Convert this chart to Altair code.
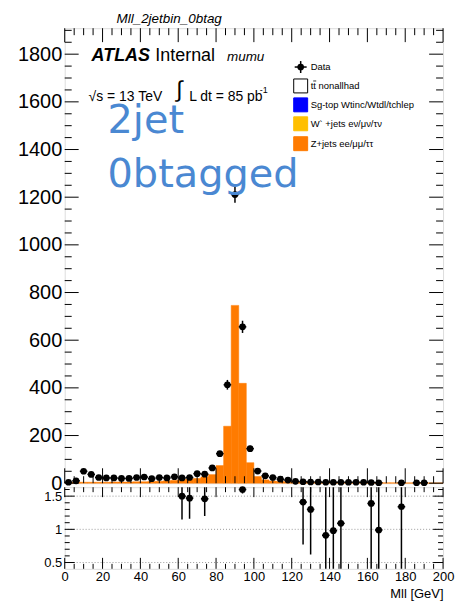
import altair as alt
import pandas as pd
import numpy as np

# ---------------- data ----------------
bin_centers = [2, 6, 10, 14, 18, 22, 26, 30, 34, 38, 42, 46, 50, 54, 58, 62, 66, 70, 74, 78,
               82, 86, 90, 94, 98, 102, 106, 110, 114, 118, 122, 126, 130, 134, 138, 142, 146, 150, 154, 158,
               162, 166, 170, 174, 178, 182, 186, 190, 194, 198]
bin_half_width = 2

data_counts = [4, 10, 50, 37, 24, 22, 22, 20, 20, 24, 26, 19, 24, 22, 27, 22, 24, 40, 38, 64,
               124, 413, 1211, 656, 145, 51, 31, 24, 17, 13, 8, 6, 5, 5, 4, 4, 4, 4, 4, 4,
               3, 2, None, None, 2, None, 2, 2, None, None]

zjets = [3, 4, 4, 4, 4, 4, 5, 5, 5, 6, 6, 7, 8, 10, 12, 15, 16.5, 20, 26.5, 36,
         74, 239, 746, 419, 86, 28, 14, 9, 7, 6, 5, 4.5, 4, 3.5, 3.2, 3, 2.8, 2.6, 2.4, 2.2,
         2, 1.9, 1.8, 1.7, 1.6, 1.5, 1.4, 1.3, 1.2, 1.1]

ratio_x = [62, 66, 74, 94, 126, 130, 138, 142, 146, 162, 166, 178]
ratio_val = [1.50, 1.47, 1.46, 1.60, 1.41, 1.30, 0.91, 0.98, 1.09, 1.39, 0.99, 1.34]
ratio_err = [0.35, 0.31, 0.26, 0.06, 0.64, 0.68, 0.75, 0.75, 0.75, 1.00, 0.75, 1.00]

y_major = [0, 200, 400, 600, 800, 1000, 1200, 1400, 1600, 1800]
y_minor = [v for v in range(50, 1950, 50) if v % 200]
x_major = [0, 20, 40, 60, 80, 100, 120, 140, 160, 180, 200]
x_minor = [v for v in range(5, 200, 5) if v % 20]
r_major = [0.5, 1.0, 1.5]
r_minor = [round(0.1 * i, 1) for i in range(5, 17) if i not in (5, 10, 15)]

legend_labels = ["Data", "tt nonallhad", "Sg-top Wtinc/Wtdl/tchlep",
                 "W` +jets e\u03bd/\u03bc\u03bd/\u03c4\u03bd", "Z+jets ee/\u03bc\u03bc/\u03c4\u03c4"]
legend_colors = [None, "white", "#0000ff", "#ffbf00", "#ff7b00"]

ORANGE = "#ff7b00"
BLUE_TXT = "#4a88d2"
FONT = "Liberation Sans"

W = 380
H_TOP = 457
H_RAT = 82
Y_TOP_MAX = 1909
R_MIN, R_MAX = 0.405, 1.635
AX_EXT = 48

# ---------------- frames ----------------
df_mc = pd.DataFrame({"x": [c - bin_half_width for c in bin_centers],
                      "x2": [c + bin_half_width for c in bin_centers],
                      "y": zjets})
df_mc["y0"] = 0
pts = [(c, n) for c, n in zip(bin_centers, data_counts) if n is not None]
df_pts = pd.DataFrame({"x": [p[0] for p in pts], "y": [p[1] for p in pts]})
df_pts["lo"] = df_pts["y"] - np.sqrt(df_pts["y"])
df_pts["hi"] = df_pts["y"] + np.sqrt(df_pts["y"])
df_pts["xl"] = df_pts["x"] - bin_half_width
df_pts["xr"] = df_pts["x"] + bin_half_width

df_rat = pd.DataFrame({"x": ratio_x, "y": ratio_val, "e": ratio_err})
df_rat["lo"] = df_rat["y"] - df_rat["e"]
df_rat["hi"] = df_rat["y"] + df_rat["e"]
df_rat["xl"] = df_rat["x"] - bin_half_width
df_rat["xr"] = df_rat["x"] + bin_half_width

dummy = pd.DataFrame({"d": [0]})

# ---------------- encodings ----------------
xs = alt.Scale(domain=[0, 200], nice=False, zero=False)
X_top = alt.X("x:Q", scale=xs, axis=None)
top_axis = alt.Axis(values=y_major, format="d", ticks=False, domain=False, grid=False, title=None,
                    labelFont=FONT, labelFontSize=20, labelColor="black", labelPadding=3,
                    minExtent=AX_EXT, maxExtent=AX_EXT)
top_scale = alt.Scale(domain=[0, Y_TOP_MAX], nice=False, zero=False)
Y_top = alt.Y("y:Q", scale=top_scale, axis=top_axis)

x_axis_r = alt.Axis(values=x_major, format="d", ticks=False, domain=False, grid=False, title="Mll [GeV]",
                    labelFont=FONT, labelFontSize=13, labelColor="black", labelPadding=2,
                    labelFlush=False, titleFont=FONT, titleFontSize=13, titleFontWeight="normal",
                    titleColor="black", titleAnchor="end", titlePadding=4)
X_rat = alt.X("x:Q", scale=xs, axis=x_axis_r)
rat_axis = alt.Axis(values=r_major, format=".1~f", ticks=False, domain=False, grid=False, title=None,
                    labelFont=FONT, labelFontSize=13, labelColor="black", labelPadding=3,
                    minExtent=AX_EXT, maxExtent=AX_EXT)
rat_scale = alt.Scale(domain=[R_MIN, R_MAX], nice=False, zero=False)
Y_rat = alt.Y("y:Q", scale=rat_scale, axis=rat_axis)


def text(t, x, y, size, font=FONT, style="normal", weight="normal", color="black", align="left"):
    return alt.Chart(dummy).mark_text(text=t, font=font, fontSize=size, fontStyle=style,
                                      fontWeight=weight, color=color, align=align,
                                      baseline="alphabetic").encode(x=alt.value(x), y=alt.value(y))


def yticks(vals, enc, length, width):
    d = pd.DataFrame({"y": vals})
    left = alt.Chart(d).mark_rule(color="black", strokeWidth=1).encode(
        y=enc, x=alt.value(0), x2=alt.value(length))
    right = alt.Chart(d).mark_rule(color="black", strokeWidth=1).encode(
        y=enc, x=alt.value(width - length), x2=alt.value(width))
    return [left, right]


def xticks(vals, enc, height, length_top, length_bot):
    d = pd.DataFrame({"x": vals})
    top = alt.Chart(d).mark_rule(color="black", strokeWidth=1).encode(
        x=enc, y=alt.value(0), y2=alt.value(length_top))
    bot = alt.Chart(d).mark_rule(color="black", strokeWidth=1).encode(
        x=enc, y=alt.value(height), y2=alt.value(height - length_bot))
    return [top, bot]


# ---------------- top panel ----------------
bars = alt.Chart(df_mc).mark_bar(color=ORANGE, stroke=ORANGE, strokeWidth=0.5).encode(
    x=X_top, x2="x2", y=Y_top, y2="y0")
errv = alt.Chart(df_pts).mark_rule(color="black", strokeWidth=1.5).encode(
    x=X_top, y=alt.Y("lo:Q", scale=top_scale, axis=top_axis), y2="hi")
errh = alt.Chart(df_pts).mark_rule(color="black", strokeWidth=1.5).encode(
    x=alt.X("xl:Q", scale=xs, axis=None), x2="xr", y=Y_top)
dots = alt.Chart(df_pts).mark_point(filled=True, shape="circle", size=45, color="black", opacity=1).encode(
    x=X_top, y=Y_top)

top_layers = [bars, errv, errh, dots]
top_layers += yticks(y_major, Y_top, 14, W) + yticks(y_minor, Y_top, 7, W)
top_layers += xticks(x_major, X_top, H_TOP, 14, 15) + xticks(x_minor, X_top, H_TOP, 7, 7)

# annotations
top_layers += [
    text("Mll_2jetbin_0btag", 52, -5, 13.5, style="italic"),
    text("ATLAS", 27, 33, 18, style="italic", weight="bold"),
    text("Internal", 91, 33, 18),
    text("mumu", 163, 33, 13.5, style="italic"),
    text("\u221as = 13 TeV", 24, 73, 14),
    text("\u222b", 112, 69, 23),
    text("L dt = 85 pb", 125, 73, 14),
    text("-1", 196, 65, 9),
    text("2jet", 43, 105, 40, font="DejaVu Sans", color=BLUE_TXT),
    text("0btagged", 43, 159, 40, font="DejaVu Sans", color=BLUE_TXT),
]

# legend
LX0, LX1, LT = 230, 244, 247
leg_rows = [39, 58, 77, 96, 116]
top_layers += [
    alt.Chart(dummy).mark_rule(color="black", strokeWidth=1.5).encode(
        x=alt.value(LX0 + 1), x2=alt.value(LX1 - 1), y=alt.value(leg_rows[0])),
    alt.Chart(dummy).mark_rule(color="black", strokeWidth=1.5).encode(
        x=alt.value((LX0 + LX1) / 2), y=alt.value(leg_rows[0] - 6), y2=alt.value(leg_rows[0] + 6)),
    alt.Chart(dummy).mark_point(filled=True, shape="circle", size=45, color="black", opacity=1).encode(
        x=alt.value((LX0 + LX1) / 2), y=alt.value(leg_rows[0])),
    # bar over the second "t" of "tt"
    alt.Chart(dummy).mark_rule(color="black", strokeWidth=0.8).encode(
        x=alt.value(LT + 2.6), x2=alt.value(LT + 5.6), y=alt.value(leg_rows[1] - 5)),
]
for lab, col, yy in zip(legend_labels, legend_colors, leg_rows):
    if col is not None:
        top_layers.append(alt.Chart(dummy).mark_rect(
            color=col, stroke="black" if col == "white" else col, strokeWidth=1).encode(
            x=alt.value(LX0), x2=alt.value(LX1), y=alt.value(yy - 7), y2=alt.value(yy + 7)))
    top_layers.append(alt.Chart(dummy).mark_text(
        text=lab, font=FONT, fontSize=9.5, color="black", align="left", baseline="middle").encode(
        x=alt.value(LT), y=alt.value(yy)))

top = alt.layer(*top_layers).properties(width=W, height=H_TOP)

# ---------------- ratio panel ----------------
grid = alt.Chart(pd.DataFrame({"y": r_major})).mark_rule(
    color="#9a9a9a", strokeDash=[1, 2], strokeWidth=1).encode(
    y=Y_rat, x=alt.value(0), x2=alt.value(W))
rerr = alt.Chart(df_rat).mark_rule(color="black", strokeWidth=1.5, clip=True).encode(
    x=X_rat, y=alt.Y("lo:Q", scale=rat_scale, axis=rat_axis), y2="hi")
rerrh = alt.Chart(df_rat).mark_rule(color="black", strokeWidth=1.5).encode(
    x=alt.X("xl:Q", scale=xs, axis=x_axis_r), x2="xr", y=Y_rat)
rdots = alt.Chart(df_rat).mark_point(filled=True, shape="circle", size=45, color="black", opacity=1).encode(
    x=X_rat, y=Y_rat)

rat_layers = [grid, rerr, rerrh, rdots]
rat_layers += yticks(r_major, Y_rat, 10, W) + yticks(r_minor, Y_rat, 5, W)
rat_layers += xticks(x_major, X_rat, H_RAT, 10, 11) + xticks(x_minor, X_rat, H_RAT, 5, 5)

ratio = alt.layer(*rat_layers).properties(width=W, height=H_RAT)

chart = alt.vconcat(top, ratio, spacing=4, bounds="flush").properties(
    padding={"left": 16, "top": 10, "right": 0, "bottom": 0}
).configure_view(stroke="black", strokeWidth=1, fill="white").configure(background="white")

chart.save("out.html", embed_options={"renderer": "svg", "actions": False})
